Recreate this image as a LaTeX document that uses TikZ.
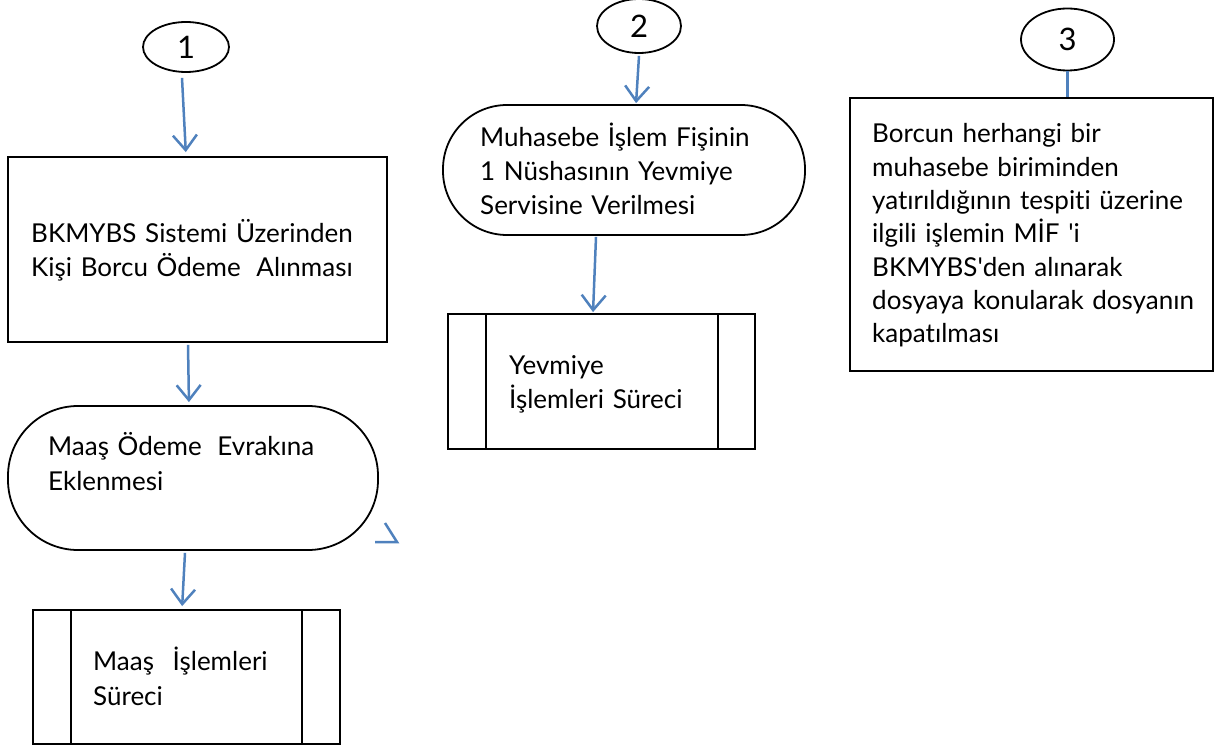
\documentclass[tikz,border=0pt]{standalone}
\usepackage{fontspec}
\setmainfont{Lato}[Ligatures={NoCommon}]
\usetikzlibrary{shapes.geometric,arrows.meta}
\definecolor{flowblue}{HTML}{4F81BD}
\begin{document}
\begin{tikzpicture}[x=1pt,y=-1pt,
  outline/.style={draw=black,line width=1.8pt,inner sep=0pt},
  boxshape/.style={outline,rectangle},
  termshape/.style={outline,rectangle,rounded corners=#1},
  oval/.style={outline,ellipse,font=\fontsize{31}{31}\selectfont},
  txt/.style={anchor=base west,inner sep=0pt,align=left,text width=#1,font=\fontsize{26}{34}\selectfont},
  arr/.style={draw=flowblue,line width=2.5pt,-{Straight Barb[length=15pt,width=24pt]}},
  link/.style={draw=flowblue,line width=2.5pt}]
\useasboundingbox (0,0) rectangle (1214,751);

% column 1
\node[oval,minimum width=86pt,minimum height=50pt] (c1) at (186,47) {1};
\node[boxshape,minimum width=379pt,minimum height=185pt] (b1) at (197.5,249.5) {};
\node[termshape=70pt,minimum width=370pt,minimum height=144pt] (t1) at (193,478) {};
\node[boxshape,minimum width=307pt,minimum height=134pt] (p1) at (186.5,677) {};
\draw[outline] ([xshift=39pt]p1.north west) -- ([xshift=39pt]p1.south west);
\draw[outline] ([xshift=-39pt]p1.north east) -- ([xshift=-39pt]p1.south east);

\node[txt=360pt] (b1t) at (31,242) {BKMYBS Sistemi Üzerinden\\[1pt]Kişi Borcu Ödeme\hspace{7pt} Alınması};
\node[txt=330pt] (t1t) at (48,455) {Maaş Ödeme\hspace{7pt} Evrakına\\[1pt]Eklenmesi};
\node[txt=240pt] (p1t) at (93,670) {Maaş\hspace{10pt} İşlemleri\\[1pt]Süreci};

% column 2
\node[oval,minimum width=84pt,minimum height=54pt] (c2) at (639,26) {2};
\node[termshape=64pt,minimum width=362pt,minimum height=130pt] (t2) at (624,170) {};
\node[boxshape,minimum width=307pt,minimum height=135pt] (p2) at (601.5,381.5) {};
\draw[outline] ([xshift=39pt]p2.north west) -- ([xshift=39pt]p2.south west);
\draw[outline] ([xshift=-38pt]p2.north east) -- ([xshift=-38pt]p2.south east);

\node[txt=320pt] (t2t) at (480,147) {Muhasebe İşlem Fişinin\\1 Nüshasının Yevmiye\\Servisine Verilmesi};
\node[txt=220pt] (p2t) at (509,374) {Yevmiye\\İşlemleri Süreci};

% column 3
\node[oval,minimum width=93pt,minimum height=62pt] (c3) at (1067.5,39.5) {3};
\node[boxshape,minimum width=363pt,minimum height=273pt] (b3) at (1031.5,234.5) {};
\node[txt=340pt,font=\fontsize{26}{33.3}\selectfont] (b3t) at (872,143) {Borcun herhangi bir\\muhasebe biriminden\\yatırıldığının tespiti üzerine\\ilgili işlemin MİF \textquotesingle i\\BKMYBS\textquotesingle den alınarak\\dosyaya konularak dosyanın\\kapatılması};

% connectors
\draw[arr,shorten >=4pt] ([xshift=-4pt,yshift=-5pt]c1.south) -- ([xshift=-11.5pt]b1.north);
\draw[arr,shorten >=3pt] ([xshift=-9.5pt,yshift=-2pt]b1.south) -- ([xshift=-4pt]t1.north);
\draw[arr,shorten >=3pt] ([xshift=-8pt,yshift=-2pt]t1.south) -- ([xshift=-4.5pt]p1.north);
\draw[arr,shorten >=1pt] ([yshift=-2pt]c2.south) -- ([xshift=12pt]t2.north);
\draw[arr,shorten >=1pt] ([xshift=-28pt,yshift=-1pt]t2.south) -- ([xshift=-8.5pt]p2.north);
\draw[link] (c3.south) -- ([xshift=36pt]b3.north);

% stray arrow head
\coordinate (strayTip) at (397,542);
\draw[link] (385,523) -- (strayTip) -- (375,542);
\end{tikzpicture}
\end{document}
